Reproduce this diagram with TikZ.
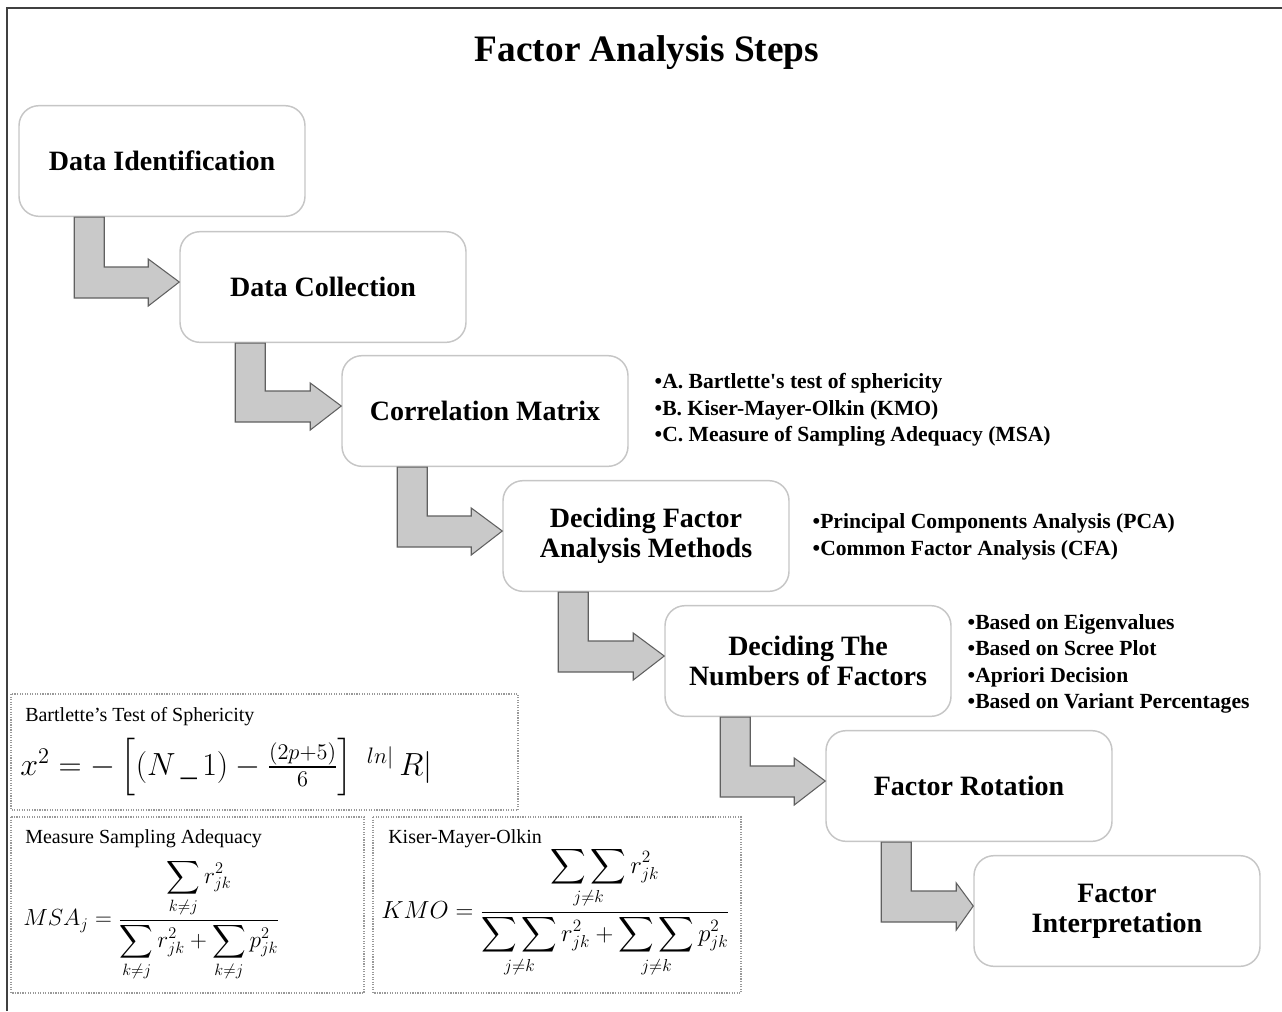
\RequirePackage{fix-cm}
\documentclass[tikz,border=0pt]{standalone}
\usepackage{amsmath,amssymb}
\usepackage{fontspec}
\setmainfont{Liberation Serif}
\usetikzlibrary{calc}

\begin{document}
\begin{tikzpicture}[x=0.75pt,y=-0.75pt,
  stepbox/.style={draw=gray!45,line width=1.1pt,rounded corners=15pt,fill=white,
    minimum width=214.5pt,minimum height=83pt,align=center,
    font=\fontsize{21}{22.5}\selectfont\bfseries},
  notes/.style={anchor=west,align=left,font=\fontsize{16.2}{19.9}\selectfont\bfseries},
  blockarrow/.style={draw=gray!75!black,fill=gray!42,line width=0.8pt},
  formbox/.style={draw=gray!80,densely dotted,line width=0.9pt},
  formtitle/.style={anchor=west,inner sep=0pt,font=\fontsize{15}{17}\selectfont},
  formula/.style={anchor=west,inner sep=0pt}]
\useasboundingbox (0,0) rectangle (1282,1011);
% frame
\draw[line width=1.6pt,black!75] (7,1011) -- (7,8) -- (1282,8);
\node[font=\fontsize{28}{30}\selectfont\bfseries] (title) at (647,53) {Factor Analysis Steps};

% steps
\node[stepbox] (ident) at (162,161) {Data Identification};
\node[stepbox] (collect) at (323,287) {Data Collection};
\node[stepbox] (corr) at (485,411) {Correlation Matrix};
\node[stepbox] (method) at (646,536) {Deciding Factor\\Analysis Methods};
\node[stepbox] (number) at (808,661) {Deciding The\\Numbers of Factors};
\node[stepbox] (rotate) at (969,786) {Factor Rotation};
\node[stepbox] (interp) at (1117,911) {Factor\\Interpretation};

% L-shaped block arrows
\foreach \a/\b/\h in {ident/collect/31,collect/corr/31,corr/method/31,
    method/number/31,number/rotate/31,rotate/interp/17}
  \draw[blockarrow] ($(\a.south west)+(56,0)$) -- ($(\a.south west)+(86,0)$)
    |- ($(\b.west)+(-\h,-20)$) -- ++(0,-8) -- ($(\b.west)+(0,-5)$)
    -- ($(\b.west)+(-\h,19)$) -- ++(0,-8) -| ($(\a.south west)+(56,0)$) -- cycle;

% side notes
\node[notes] (corrnote) at (650,410) {•A. Bartlette\textquotesingle s test of sphericity\\
  •B. Kiser-Mayer-Olkin (KMO)\\•C. Measure of Sampling Adequacy (MSA)};
\node[notes] (methodnote) at (808,537) {•Principal Components Analysis (PCA)\\
  •Common Factor Analysis (CFA)};
\node[notes] (numbernote) at (963,664) {•Based on Eigenvalues\\•Based on Scree Plot\\
  •Apriori Decision\\•Based on Variant Percentages};

% formulas
\draw[formbox] (11,694) rectangle (518,810);
\draw[formbox] (11,817) rectangle (364,993);
\draw[formbox] (373,817) rectangle (741,993);
\node[formtitle] (barttitle) at (25,717) {Bartlette’s Test of Sphericity};
\node[formula,font=\fontsize{24}{26}\selectfont] (bartform) at (20,767)
  {$x^2 = -\left[(N\,\_\,1) - \frac{(2p+5)}{6}\right]\;{}^{ln|}\,R|$};
\node[formtitle] (msatitle) at (25,839) {Measure Sampling Adequacy};
\node[formula,font=\fontsize{17.5}{21}\selectfont] (msaform) at (23,920)
  {$MSA_j = \dfrac{\displaystyle\sum_{k\neq j} r^2_{jk}}
    {\displaystyle\sum_{k\neq j} r^2_{jk} + \sum_{k\neq j} p^2_{jk}}$};
\node[formtitle] (kmotitle) at (388,839) {Kiser-Mayer-Olkin};
\node[formula,font=\fontsize{18.5}{21}\selectfont] (kmoform) at (381,912)
  {$KMO = \dfrac{\displaystyle\mathop{\sum\sum}_{j\neq k} r^2_{jk}}
    {\displaystyle\mathop{\sum\sum}_{j\neq k} r^2_{jk} + \mathop{\sum\sum}_{j\neq k} p^2_{jk}}$};
\end{tikzpicture}
\end{document}
